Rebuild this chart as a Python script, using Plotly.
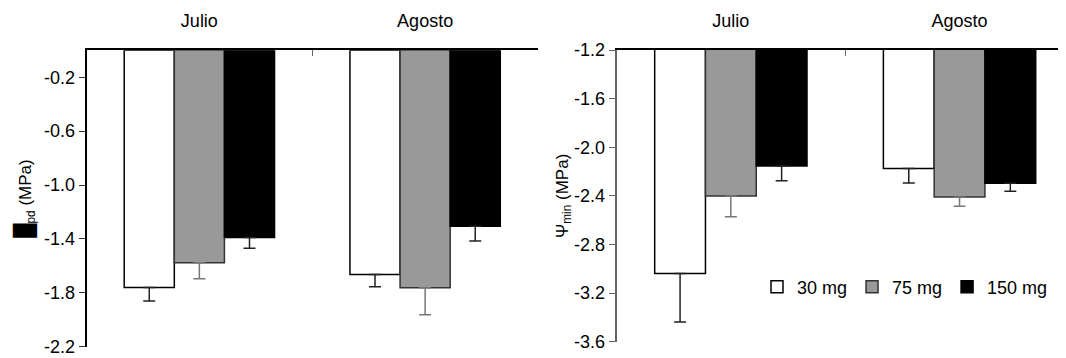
import plotly.graph_objects as go

months = ["Julio", "Agosto"]
doses = ["30 mg", "75 mg", "150 mg"]

# Left panel: Psi_pd (MPa)
pd_vals = {
    "30 mg": [-1.76, -1.665],
    "75 mg": [-1.576, -1.762],
    "150 mg": [-1.39, -1.306],
}
pd_err = {
    "30 mg": [0.10, 0.09],
    "75 mg": [0.12, 0.20],
    "150 mg": [0.08, 0.11],
}

# Right panel: Psi_min (MPa)
min_vals = {
    "30 mg": [-3.038, -2.174],
    "75 mg": [-2.402, -2.41],
    "150 mg": [-2.155, -2.297],
}
min_err = {
    "30 mg": [0.40, 0.12],
    "75 mg": [0.17, 0.075],
    "150 mg": [0.12, 0.065],
}

left_ticks = [-0.2, -0.6, -1.0, -1.4, -1.8, -2.2]
left_ticktext = ["-0.2", "-0.6", "-1.0", "-1.4", "-1.8", "-2.2"]
right_ticks = [-1.2, -1.6, -2.0, -2.4, -2.8, -3.2, -3.6]
right_ticktext = ["-1.2", "-1.6", "-2.0", "-2.4", "-2.8", "-3.2", "-3.6"]

fill = {"30 mg": "#ffffff", "75 mg": "#999999", "150 mg": "#000000"}
edge = {"30 mg": "#000000", "75 mg": "#333333", "150 mg": "#000000"}
errc = {"30 mg": "#222222", "75 mg": "#777777", "150 mg": "#222222"}

FONT = "Liberation Sans, Arial, sans-serif"
# the page body has an 8px margin, so the figure is drawn 8px smaller and offset
OFF = 8
W, H = 1066 - OFF, 358 - OFF


def sx(px):
    return (px - OFF) / W


def sy(py):
    return 1 - (py - OFF) / H


fig = go.Figure()
for d in doses:
    fig.add_trace(go.Bar(
        x=months, y=pd_vals[d], name=d, xaxis="x", yaxis="y",
        marker=dict(color=fill[d], line=dict(color=edge[d], width=1.5)),
        error_y=dict(type="data", symmetric=False, array=[0, 0], arrayminus=pd_err[d],
                     color=errc[d], thickness=1.5, width=6),
        showlegend=False,
    ))
for d in doses:
    fig.add_trace(go.Bar(
        x=months, y=min_vals[d], name=d, xaxis="x2", yaxis="y2",
        marker=dict(color=fill[d], line=dict(color=edge[d], width=1.5)),
        error_y=dict(type="data", symmetric=False, array=[0, 0], arrayminus=min_err[d],
                     color=errc[d], thickness=1.5, width=6),
        showlegend=True,
    ))

xcommon = dict(side="top", showline=True, linecolor="#000000", linewidth=1.5,
               ticks="inside", ticklen=6, tickcolor="#666666", tickson="boundaries",
               showgrid=False, zeroline=False, ticklabelstandoff=14, automargin=False,
               tickfont=dict(size=18, color="#000000", family=FONT))

fig.update_layout(
    template="none",
    width=W, height=H,
    margin=dict(l=0, r=0, t=0, b=0, pad=0),
    paper_bgcolor="white", plot_bgcolor="white",
    font=dict(family=FONT, size=18, color="#000000"),
    barmode="group", bargap=0.334, bargroupgap=0,
    xaxis=dict(domain=[sx(86.5), sx(538)], range=[-0.5, 1.5], anchor="y", **xcommon),
    xaxis2=dict(domain=[sx(616.5), 1.0], range=[-0.5, -0.5 + 449.5 / 228.7], anchor="y2", **xcommon),
    yaxis=dict(domain=[sy(346.7), sy(50.3)], range=[-2.2, 0], anchor="x",
               tickvals=left_ticks, ticktext=left_ticktext, automargin=False,
               showline=True, linecolor="#000000", linewidth=1.5,
               ticks="outside", ticklen=6, tickcolor="#333333",
               showgrid=False, zeroline=False,
               tickfont=dict(size=18),
               title=dict(text="<span style='font-size:20px'>█</span><sub>pd</sub> (MPa)",
                          standoff=8, font=dict(size=17))),
    yaxis2=dict(domain=[sy(341.7), sy(50)], range=[-3.6, -1.2], anchor="x2",
                tickvals=right_ticks, ticktext=right_ticktext, automargin=False,
                showline=True, linecolor="#666666", linewidth=1.5,
                ticks="outside", ticklen=6, tickcolor="#666666",
                showgrid=False, zeroline=False,
                tickfont=dict(size=18),
                title=dict(text="Ψ<sub>min</sub> (MPa)", standoff=0, font=dict(size=17))),
    legend=dict(orientation="h", x=sx(757), xanchor="left", y=sy(287), yanchor="middle",
                bgcolor="rgba(0,0,0,0)", font=dict(size=18),
                itemclick=False, itemdoubleclick=False),
)

fig.write_html("out.html")
